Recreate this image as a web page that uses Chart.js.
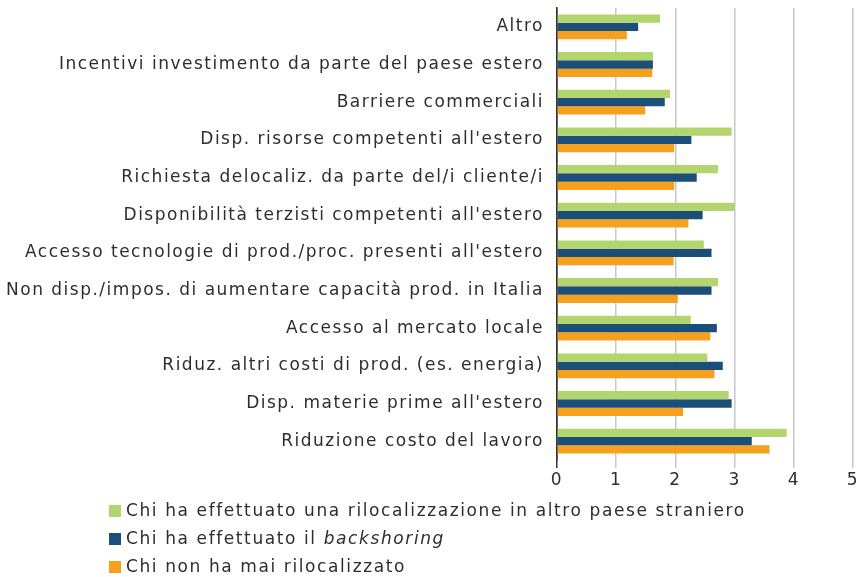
<!DOCTYPE html>
<html>
<head>
<meta charset="utf-8">
<script src="https://cdn.jsdelivr.net/npm/chart.js@4.4.1/dist/chart.umd.min.js"></script>
<style>
    html, body { margin: 0; padding: 0; background: #fff; }
    #wrap { position: relative; width: 861px; height: 577px; }
    #legend { position: absolute; left: 109px; top: 496px; font-family: 'DejaVu Sans', sans-serif; font-size: 17px; letter-spacing: 1.6px; color: #2e2e2e; }
    #legend .item { height: 28px; line-height: 28px; white-space: nowrap; }
    #legend .box { display: inline-block; width: 12px; height: 12px; margin-right: 5px; vertical-align: -1px; }
</style>
</head>
<body>
<div id="wrap">
    <canvas id="chart" width="861" height="577"></canvas>
    <div id="legend"></div>
</div>
<script>
const categories = [
    'Altro',
    'Incentivi investimento da parte del paese estero',
    'Barriere commerciali',
    "Disp. risorse competenti all'estero",
    'Richiesta delocaliz. da parte del/i cliente/i',
    "Disponibilità terzisti competenti all'estero",
    "Accesso tecnologie di prod./proc. presenti all'estero",
    'Non disp./impos. di aumentare capacità prod. in Italia',
    'Accesso al mercato locale',
    'Riduz. altri costi di prod. (es. energia)',
    "Disp. materie prime all'estero",
    'Riduzione costo del lavoro'
];

const seriesNames = [
    'Chi ha effettuato una rilocalizzazione in altro paese straniero',
    'Chi ha effettuato il <i>backshoring</i>',
    'Chi non ha mai rilocalizzato'
];

const altroPaese = [1.74, 1.62, 1.91, 2.95, 2.72, 3.00, 2.48, 2.72, 2.26, 2.54, 2.90, 3.88];
const backshoring = [1.37, 1.62, 1.82, 2.27, 2.36, 2.46, 2.61, 2.61, 2.70, 2.80, 2.95, 3.29];
const maiRilocalizzato = [1.18, 1.61, 1.49, 1.98, 1.98, 2.22, 1.97, 2.04, 2.59, 2.66, 2.13, 3.59];

const xTicks = [0, 1, 2, 3, 4, 5];

const colors = ['#b3d56e', '#1b4e78', '#f7a01e'];
const fontFamily = "'DejaVu Sans', sans-serif";

const datasets = [altroPaese, backshoring, maiRilocalizzato].map((d, i) => ({
    label: seriesNames[i].replace(/<[^>]+>/g, ''),
    data: d,
    backgroundColor: colors[i],
    borderWidth: 0,
    categoryPercentage: 0.66,
    barPercentage: 1.0
}));

// legenda HTML (serve il corsivo su "backshoring")
document.getElementById('legend').innerHTML = seriesNames.map((n, i) =>
    `<div class="item"><span class="box" style="background:${colors[i]}"></span>${n}</div>`
).join('');

// il font originale è più largo: allargo un po' le lettere
const spacing = {
    id: 'spacing',
    beforeDraw: chart => { chart.ctx.letterSpacing = '1.5px'; }
};

new Chart(document.getElementById('chart').getContext('2d'), {
    type: 'bar',
    data: { labels: categories, datasets: datasets },
    plugins: [spacing],
    options: {
        indexAxis: 'y',
        responsive: false,
        animation: false,
        plugins: { legend: { display: false }, tooltip: { enabled: false } },
        layout: { padding: { left: 0, right: 8, top: 8, bottom: 0 } },
        scales: {
            x: {
                min: 0,
                max: 5,
                afterBuildTicks: s => { s.ticks = xTicks.map(v => ({ value: v })); },
                afterFit: s => { s.height = 117; s.paddingLeft = 0; s.paddingRight = 0; },
                grid: {
                    color: ctx => ctx.index === 0 ? '#333' : '#c8c8c8',
                    lineWidth: 1.5,
                    drawTicks: true,
                    tickLength: 8
                },
                border: { display: false },
                ticks: {
                    color: '#2e2e2e',
                    font: { family: fontFamily, size: 17 },
                    padding: 2
                }
            },
            y: {
                afterFit: s => { s.width = 557; s.paddingTop = 0; s.paddingBottom = 0; },
                grid: { display: false },
                border: { display: true, color: '#333', width: 1.5 },
                ticks: {
                    color: '#2e2e2e',
                    font: { family: fontFamily, size: 17 },
                    padding: 5
                }
            }
        }
    }
});
</script>
</body>
</html>
